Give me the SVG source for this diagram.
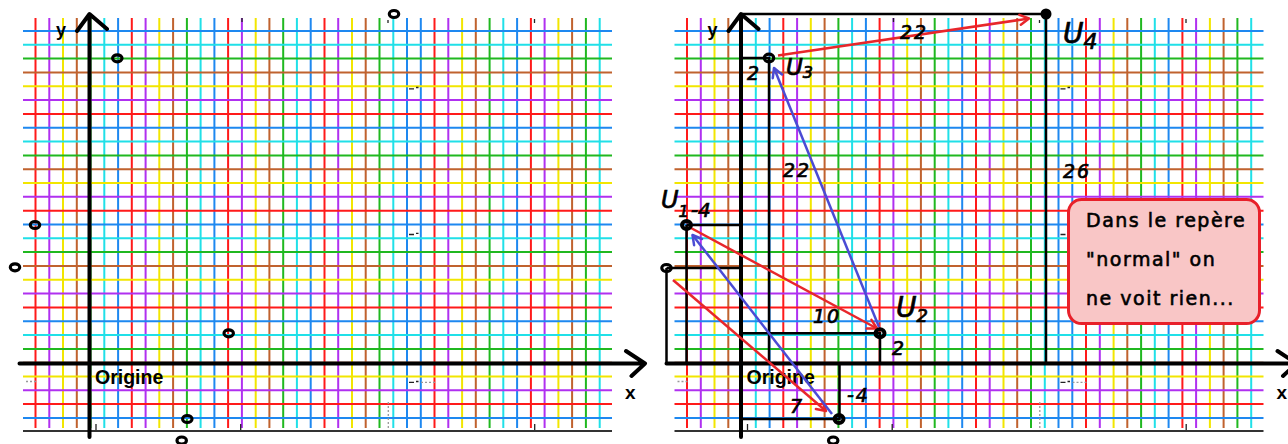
<svg xmlns="http://www.w3.org/2000/svg" width="1288" height="444" viewBox="0 0 1288 444">
<style>
.gl{fill:none;stroke-width:2}
.cR{stroke:#ff1a1a}.cP{stroke:#b030f0}.cY{stroke:#f2e600}.cBr{stroke:#c0622e}.cG{stroke:#20b820}.cC{stroke:#20e0e8}.cB{stroke:#1e88f0}
.ax{fill:none;stroke:#000;stroke-width:4;stroke-linecap:round;stroke-linejoin:round}
.base{fill:none;stroke:#333;stroke-width:2}
.blk{fill:none;stroke:#000;stroke-width:2.5}
.ring{fill:none;stroke:#000;stroke-width:3.2}
.dot{fill:none;stroke:#000;stroke-width:4}
.tick{fill:none;stroke:#222;stroke-width:1.3}
.dash{fill:none;stroke:#999;stroke-width:1.3;stroke-dasharray:2 2}
.lbl{font-family:"Liberation Sans",Arial,sans-serif;font-weight:bold;fill:#000}
.hw{font-family:"DejaVu Sans",sans-serif;font-style:italic;fill:#000;stroke:#000;stroke-width:0.7}
.note{font-family:"DejaVu Sans",sans-serif;font-size:19px;letter-spacing:1.5px;fill:#000;stroke:#000;stroke-width:0.6}
.ra{fill:none;stroke:#e8262b;stroke-width:2.5}
.ba{fill:none;stroke:#4b4bd4;stroke-width:2.5}
</style>
<defs>
<marker id="hr" markerUnits="userSpaceOnUse" markerWidth="16" markerHeight="16" refX="10" refY="6" orient="auto" overflow="visible">
<path d="M1,1 L10,6 L1,11" fill="none" stroke="#e8262b" stroke-width="2.5" stroke-linecap="round" stroke-linejoin="round"/>
</marker>
<marker id="hb" markerUnits="userSpaceOnUse" markerWidth="16" markerHeight="16" refX="10" refY="6" orient="auto" overflow="visible">
<path d="M1,1 L10,6 L1,11" fill="none" stroke="#4b4bd4" stroke-width="2.5" stroke-linecap="round" stroke-linejoin="round"/>
</marker>
</defs>
<rect width="1288" height="444" fill="#fff"/>

<g id="grid-left">
<path class="gl cR" d="M35.5 18V428M131.8 18V428M228.1 18V428M324.5 18V428M434.5 18V428M530.9 18V428"/>
<path class="gl cP" d="M49.3 18V428M145.6 18V428M241.9 18V428M338.2 18V428M448.3 18V428M544.6 18V428"/>
<path class="gl cY" d="M63 18V428M159.3 18V428M255.7 18V428M352 18V428M462.1 18V428M558.4 18V428"/>
<path class="gl cBr" d="M76.8 18V428M173.1 18V428M269.4 18V428M365.7 18V428M475.8 18V428M572.1 18V428"/>
<path class="gl cG" d="M90.5 18V428M186.9 18V428M283.2 18V428M379.5 18V428M489.6 18V428M585.9 18V428"/>
<path class="gl cC" d="M104.3 18V428M200.6 18V428M296.9 18V428M393.3 18V428M503.3 18V428M599.7 18V428"/>
<path class="gl cB" d="M118.1 18V428M214.4 18V428M310.7 18V428M407 18V428M420.8 18V428M517.1 18V428"/>
<path class="gl cB" d="M23 31H612M23 127.7H612M23 224.5H612M23 321.2H612M23 418H612"/>
<path class="gl cC" d="M23 44.8H612M23 141.6H612M23 238.3H612M23 335H612"/>
<path class="gl cG" d="M23 58.6H612M23 155.4H612M23 252.1H612M23 348.9H612"/>
<path class="gl cBr" d="M23 72.5H612M23 169.2H612M23 265.9H612M23 362.7H612"/>
<path class="gl cY" d="M23 86.3H612M23 183H612M23 279.8H612M23 376.5H612"/>
<path class="gl cP" d="M23 100.1H612M23 196.8H612M23 293.6H612M23 390.3H612"/>
<path class="gl cR" d="M23 113.9H612M23 210.7H612M23 307.4H612M23 404.1H612"/>
<path class="base" d="M23 431H612"/>
<path class="tick" d="M409 88.8H414M416 87.5H418.5M409 234.5H414M416 233.3H418.5M409 382.3H414M416 381.5H418.5M96 424V430M240.7 424V430M534.7 424V430M242 18V22M388 20V23M534.5 19V23"/>
<path class="dash" d="M421 382.3H437M26 381.5H37M388.3 402V430"/>
</g>

<g id="grid-right" transform="translate(651.5 0)">
<path class="gl cR" d="M35.5 18V428M131.8 18V428M228.1 18V428M324.5 18V428M434.5 18V428M530.9 18V428"/>
<path class="gl cP" d="M49.3 18V428M145.6 18V428M241.9 18V428M338.2 18V428M448.3 18V428M544.6 18V428"/>
<path class="gl cY" d="M63 18V428M159.3 18V428M255.7 18V428M352 18V428M462.1 18V428M558.4 18V428"/>
<path class="gl cBr" d="M76.8 18V428M173.1 18V428M269.4 18V428M365.7 18V428M475.8 18V428M572.1 18V428"/>
<path class="gl cG" d="M90.5 18V428M186.9 18V428M283.2 18V428M379.5 18V428M489.6 18V428M585.9 18V428"/>
<path class="gl cC" d="M104.3 18V428M200.6 18V428M296.9 18V428M393.3 18V428M503.3 18V428M599.7 18V428"/>
<path class="gl cB" d="M118.1 18V428M214.4 18V428M310.7 18V428M407 18V428M420.8 18V428M517.1 18V428"/>
<path class="gl cB" d="M23 31H612M23 127.7H612M23 224.5H612M23 321.2H612M23 418H612"/>
<path class="gl cC" d="M23 44.8H612M23 141.6H612M23 238.3H612M23 335H612"/>
<path class="gl cG" d="M23 58.6H612M23 155.4H612M23 252.1H612M23 348.9H612"/>
<path class="gl cBr" d="M23 72.5H612M23 169.2H612M23 265.9H612M23 362.7H612"/>
<path class="gl cY" d="M23 86.3H612M23 183H612M23 279.8H612M23 376.5H612"/>
<path class="gl cP" d="M23 100.1H612M23 196.8H612M23 293.6H612M23 390.3H612"/>
<path class="gl cR" d="M23 113.9H612M23 210.7H612M23 307.4H612M23 404.1H612"/>
<path class="base" d="M23 431H612"/>
<path class="tick" d="M409 88.8H414M416 87.5H418.5M409 234.5H414M416 233.3H418.5M409 382.3H414M416 381.5H418.5M96 424V430M240.7 424V430M534.7 424V430M242 18V22M388 20V23M534.5 19V23"/>
<path class="dash" d="M421 382.3H437M26 381.5H37M388.3 402V430"/>
</g>

<g id="axes-left">
<path class="ax" d="M89.5 437V15M77 31L89.5 14L107 29"/>
<path class="ax" d="M19.5 363.5H644M626 351L645 363.5L631.5 376"/>
<text class="lbl" x="56" y="36" font-size="18">y</text>
<text class="lbl" x="625" y="399" font-size="19">x</text>
<text class="lbl" x="95" y="384" font-size="19.5">Origine</text>
</g>

<g id="points-left">
<ellipse class="ring" cx="117.3" cy="58.3" rx="4.7" ry="3.5"/>
<ellipse class="ring" cx="35" cy="225" rx="4.7" ry="3.5"/>
<ellipse class="ring" cx="15" cy="267.3" rx="4.7" ry="3.5"/>
<ellipse class="ring" cx="228.7" cy="333.3" rx="4.7" ry="3.5"/>
<ellipse class="ring" cx="187.3" cy="419" rx="4.7" ry="3.5"/>
<ellipse class="ring" cx="181.7" cy="440.5" rx="4.7" ry="3.5"/>
<ellipse class="ring" cx="394" cy="14" rx="4.7" ry="3.5"/>
</g>

<g id="construction-right">
<path class="blk" d="M741 14H1046V363.5"/>
<path class="blk" d="M741 58H769V363.5"/>
<path class="blk" d="M686.5 225H741M686.5 225V363.5"/>
<path class="blk" d="M666.5 268H741M666.5 268V363.5"/>
<path class="blk" d="M741 333.3H880V363.5"/>
<path class="blk" d="M741 419H839.5V363.5"/>
</g>

<g id="axes-right">
<path class="ax" d="M741 437V15M728.5 31L741 14L758.5 29"/>
<path class="ax" d="M666.5 363.5H1295M1277.5 351L1296.5 363.5L1283 376"/>
<text class="lbl" x="707.5" y="36" font-size="18">y</text>
<text class="lbl" x="1276.5" y="399" font-size="19">x</text>
<text class="lbl" x="746.5" y="384" font-size="19.5">Origine</text>
</g>

<g id="connectors">
<line class="ra" x1="778" y1="55.5" x2="1029" y2="18.5" marker-end="url(#hr)"/>
<line class="ra" x1="691" y1="228" x2="877" y2="328.5" marker-end="url(#hr)"/>
<line class="ra" x1="673" y1="280" x2="826" y2="411" marker-end="url(#hr)"/>
<line class="ba" x1="879" y1="327" x2="774" y2="68" marker-end="url(#hb)"/>
<line class="ba" x1="832" y1="414" x2="692.5" y2="235" marker-end="url(#hb)"/>
</g>

<g id="U3">
<ellipse class="ring" cx="769" cy="58" rx="4.7" ry="3.8"/>
<text class="hw" x="747" y="80" font-size="19">2</text>
<text class="hw" x="786" y="75" font-size="23">U<tspan font-size="16" dy="3">3</tspan></text>
</g>
<g id="U4">
<circle cx="1046" cy="14" r="5.5" fill="#000"/>
<text class="hw" x="1063" y="43" font-size="28">U<tspan font-size="22" dy="6">4</tspan></text>
</g>
<g id="U1">
<ellipse class="dot" cx="686.5" cy="225" rx="4.5" ry="4"/>
<text class="hw" x="661" y="208" font-size="24">U<tspan font-size="16" dy="9">1</tspan><tspan font-size="20" dx="2">-4</tspan></text>
</g>
<g id="P0">
<ellipse class="ring" cx="666.5" cy="268" rx="4.7" ry="3.5"/>
</g>
<g id="U2">
<ellipse class="dot" cx="880" cy="333.3" rx="4.5" ry="4"/>
<text class="hw" x="896" y="317" font-size="28">U<tspan font-size="18" dy="5">2</tspan></text>
<text class="hw" x="892" y="355" font-size="19">2</text>
</g>
<g id="P5">
<ellipse class="dot" cx="839" cy="419" rx="4.5" ry="4"/>
</g>
<g id="P6">
<ellipse class="ring" cx="833.2" cy="440.5" rx="4.7" ry="3.5"/>
</g>

<g id="edge-labels">
<text class="hw" x="900" y="39" font-size="19" letter-spacing="2">22</text>
<text class="hw" x="783" y="177" font-size="19" letter-spacing="2">22</text>
<text class="hw" x="1063" y="178" font-size="19" letter-spacing="2">26</text>
<text class="hw" x="813" y="323" font-size="19" letter-spacing="2">10</text>
<text class="hw" x="847" y="402" font-size="19" letter-spacing="2">-4</text>
<text class="hw" x="790" y="413" font-size="19">7</text>
</g>

<g id="note">
<rect x="1068.5" y="199.5" width="191" height="124" rx="13" fill="#f9c6c6" stroke="#e8202a" stroke-width="3"/>
<text class="note" x="1086" y="227">Dans le repère</text>
<text class="note" x="1086" y="266">"normal" on</text>
<text class="note" x="1086" y="305">ne voit rien...</text>
</g>
</svg>
